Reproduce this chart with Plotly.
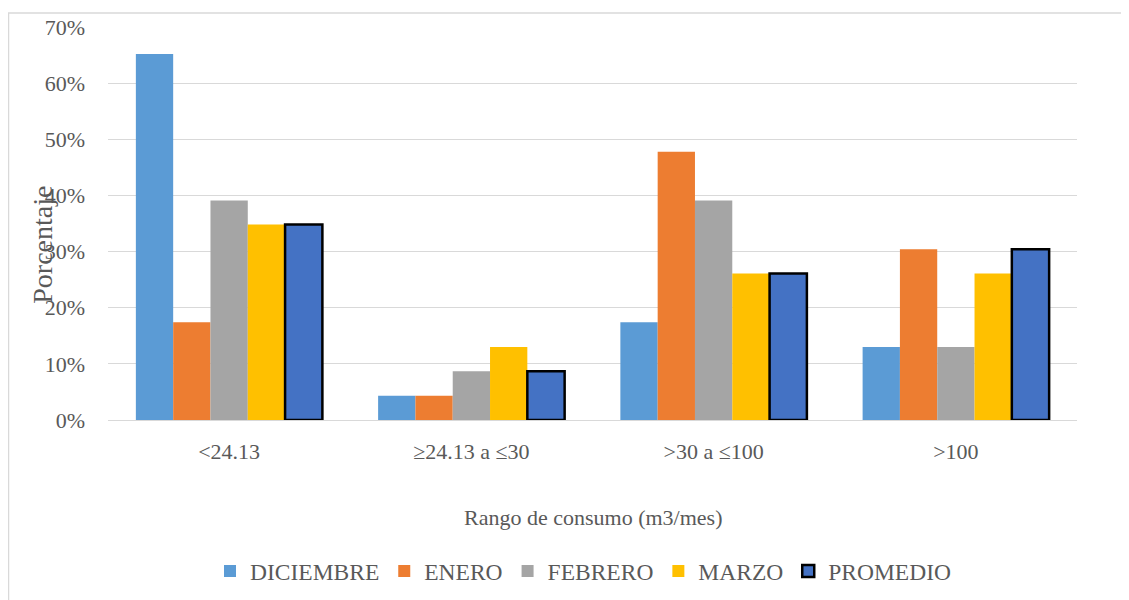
import plotly.graph_objects as go

categories = ["<24.13", "≥24.13 a ≤30", ">30 a ≤100", ">100"]
diciembre = [0.652, 0.043, 0.174, 0.130]
enero = [0.174, 0.043, 0.478, 0.304]
febrero = [0.391, 0.087, 0.391, 0.130]
marzo = [0.348, 0.130, 0.261, 0.261]
promedio = [0.348, 0.087, 0.261, 0.304]

series = [
    ("DICIEMBRE", diciembre, "#5B9BD5", None),
    ("ENERO", enero, "#ED7D31", None),
    ("FEBRERO", febrero, "#A5A5A5", None),
    ("MARZO", marzo, "#FFC000", None),
    ("PROMEDIO", promedio, "#4472C4", "#000000"),
]

FONT = "Liberation Serif, Times New Roman, serif"
TXT = "#595959"

fig = go.Figure()
for name, vals, color, line in series:
    marker = dict(color=color)
    if line:
        marker["line"] = dict(color=line, width=2.5)
    else:
        marker["line"] = dict(width=0)
    fig.add_trace(go.Bar(name=name, x=categories, y=vals, marker=marker))

# page body adds an 8px offset; figure coordinates are reference pixels minus 8
OFF = 8
W, H = 1129 - OFF, 600 - OFF
L, R, T, B = 108 - OFF, 52, 27 - OFF, 600 - 420.5
pw = W - L - R
ph = H - T - B

def px_x(x):
    return (x - OFF - L) / pw

def px_y(y):
    return (420.5 - y) / ph

fig.update_layout(
    width=W, height=H,
    margin=dict(l=L, r=R, t=T, b=B, autoexpand=False),
    paper_bgcolor="white", plot_bgcolor="white",
    barmode="group", bargap=0.23, bargroupgap=0,
    font=dict(family=FONT, size=22, color=TXT),
    showlegend=True,
    legend=dict(orientation="h", x=px_x(583), xanchor="center", y=px_y(572), yanchor="middle",
                font=dict(family=FONT, size=23.5, color=TXT), traceorder="normal"),
    xaxis=dict(showgrid=False, ticks="outside", ticklen=12, tickcolor="rgba(0,0,0,0)",
               showline=True, linecolor="#d9d9d9", linewidth=1,
               tickfont=dict(family=FONT, size=22, color=TXT)),
    yaxis=dict(range=[0, 0.7], dtick=0.1, tickformat=".0%", showgrid=True,
               gridcolor="#d9d9d9", gridwidth=1, zeroline=True, zerolinecolor="#d9d9d9",
               zerolinewidth=1, ticklabelstandoff=22,
               tickfont=dict(family=FONT, size=22, color=TXT)),
    annotations=[
        dict(text="Porcentaje", xref="paper", yref="paper", x=px_x(43), y=px_y(245),
             xanchor="center", yanchor="middle", textangle=-90, showarrow=False,
             font=dict(family=FONT, size=28, color=TXT)),
        dict(text="Rango de consumo (m3/mes)", xref="paper", yref="paper", x=px_x(593), y=px_y(518),
             xanchor="center", yanchor="middle", showarrow=False,
             font=dict(family=FONT, size=22, color=TXT)),
    ],
    shapes=[
        dict(type="rect", xref="paper", yref="paper", x0=px_x(8.5), x1=px_x(1140),
             y0=px_y(640), y1=px_y(13), line=dict(color="#d9d9d9", width=1.5),
             layer="below"),
    ],
)

fig.write_html("out.html")
